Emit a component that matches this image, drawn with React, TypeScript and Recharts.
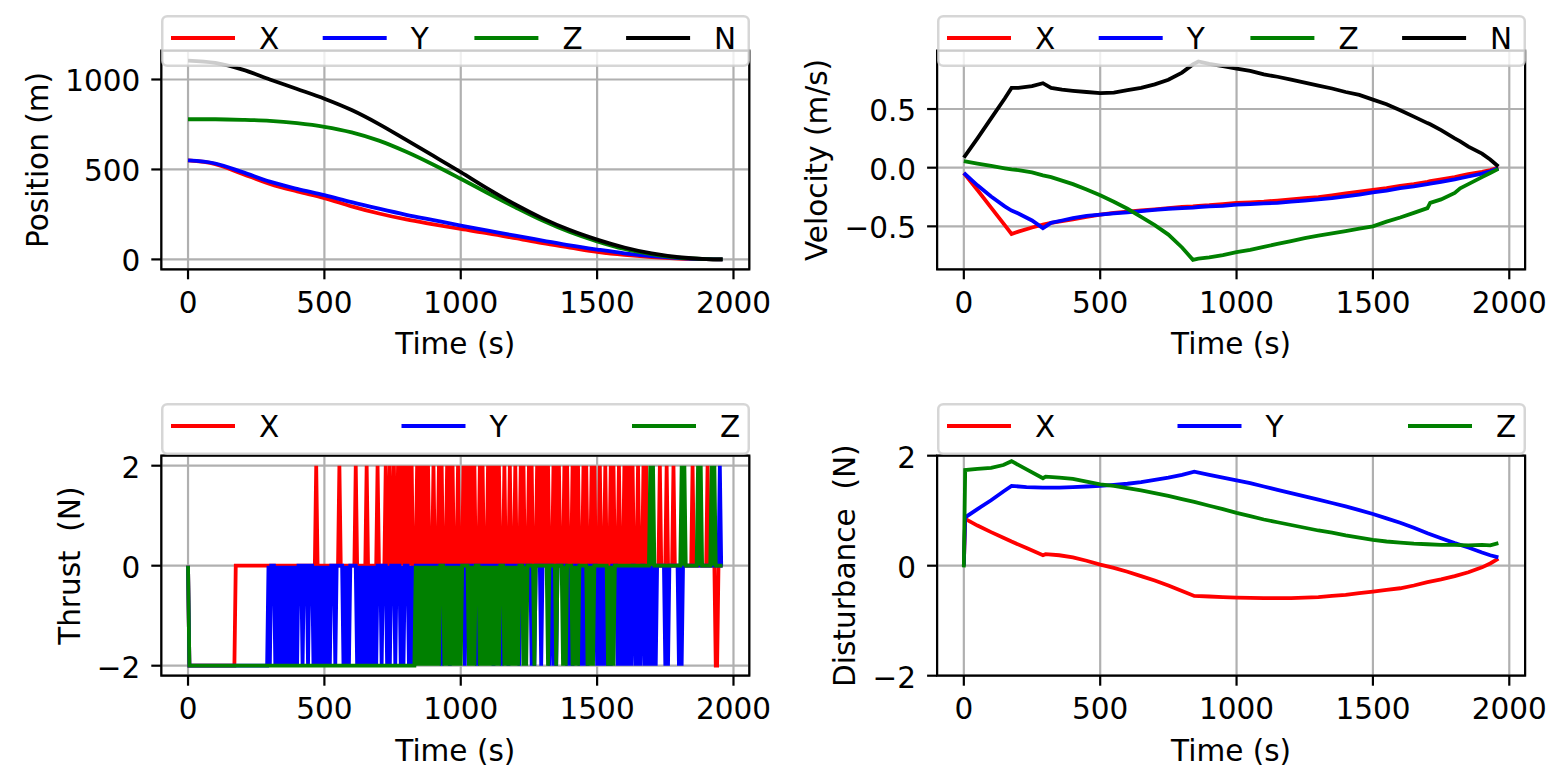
import {
  LineChart,
  Line,
  XAxis,
  YAxis,
  CartesianGrid,
  Legend,
  ReferenceArea,
} from 'recharts';

// ---------------------------------------------------------------------------
// Data
// ---------------------------------------------------------------------------

// Position (m), sampled every 100 s
const posTime = [0, 100, 200, 300, 400, 500, 600, 700, 800, 900, 1000, 1100, 1200, 1300, 1400, 1500, 1600, 1700, 1800, 1900, 1960];
const posX = [550, 530, 475, 420, 378, 341, 295, 255, 222, 195, 169, 145, 118, 90, 66, 42, 25, 13, 5, 1, 0];
const posY = [550, 533, 485, 432, 392, 357, 318, 282, 248, 218, 188, 160, 132, 105, 78, 55, 34, 18, 7, 1, 0];
const posZ = [779, 779, 776, 770, 757, 737, 706, 660, 598, 526, 448, 368, 290, 216, 152, 100, 58, 30, 10, 2, 0];
const posN = [1105, 1092, 1055, 1000, 947, 893, 830, 752, 664, 575, 485, 392, 305, 228, 163, 110, 66, 33, 12, 2, 0];

// Velocity (m/s)
const velTime = [0, 50, 100, 150, 175, 200, 250, 290, 320, 360, 400, 450, 500, 550, 600, 650, 700, 750, 800, 840, 860, 900, 950, 1000, 1050, 1100, 1150, 1200, 1250, 1300, 1350, 1400, 1450, 1500, 1550, 1600, 1650, 1700, 1710, 1750, 1800, 1820, 1850, 1900, 1930, 1960];
const velX = [-0.045, -0.19, -0.34, -0.49, -0.565, -0.545, -0.51, -0.485, -0.47, -0.455, -0.44, -0.42, -0.4, -0.385, -0.375, -0.365, -0.355, -0.345, -0.335, -0.33, -0.325, -0.32, -0.31, -0.3, -0.295, -0.29, -0.28, -0.27, -0.26, -0.25, -0.235, -0.22, -0.205, -0.19, -0.175, -0.155, -0.14, -0.12, -0.115, -0.1, -0.08, -0.07, -0.055, -0.035, -0.02, 0];
const velY = [-0.045, -0.15, -0.245, -0.33, -0.365, -0.39, -0.45, -0.515, -0.47, -0.45, -0.43, -0.41, -0.4, -0.39, -0.38, -0.37, -0.36, -0.35, -0.345, -0.34, -0.335, -0.33, -0.325, -0.315, -0.31, -0.305, -0.3, -0.29, -0.28, -0.27, -0.26, -0.245, -0.23, -0.21, -0.195, -0.175, -0.16, -0.14, -0.135, -0.12, -0.1, -0.09, -0.075, -0.05, -0.03, -0.005];
const velZ = [0.055, 0.035, 0.015, -0.005, -0.015, -0.02, -0.04, -0.065, -0.08, -0.11, -0.14, -0.185, -0.235, -0.29, -0.35, -0.42, -0.49, -0.57, -0.68, -0.785, -0.775, -0.765, -0.745, -0.72, -0.7, -0.675, -0.65, -0.625, -0.6, -0.58, -0.56, -0.54, -0.52, -0.5, -0.46, -0.425, -0.385, -0.345, -0.3, -0.27, -0.215, -0.175, -0.14, -0.08, -0.045, -0.01];
const velN = [0.085, 0.25, 0.42, 0.59, 0.68, 0.68, 0.695, 0.72, 0.68, 0.665, 0.655, 0.645, 0.635, 0.64, 0.66, 0.68, 0.71, 0.75, 0.81, 0.88, 0.905, 0.885, 0.865, 0.845, 0.825, 0.795, 0.775, 0.75, 0.725, 0.7, 0.675, 0.645, 0.62, 0.58, 0.54, 0.49, 0.435, 0.38, 0.37, 0.32, 0.25, 0.225, 0.18, 0.12, 0.07, 0.01];

// Thrust (N): one character per 5 s step, 20 steps (100 s) per string.
// '+' = +2, '0' = 0, '-' = -2
const THRUST_DT = 5;
const thrustX = [
  '0-------------------', '---------------00000', '00000000000000000000', '00000000000000000000',
  '00000000000000+00000', '00000000000+00000000', '000+0000000+0000000+', '00000+00+00+00+0+0+0',
  '+0+0+000+0+0+0+0+000', '+000+0+000+0+0+000+0', '00+0+0+0+0+000+0+000', '+0+0+0+0+000+000+000',
  '+000+0+000+0+000+0+0', '+0+0+000+0+0+000+0+0', '00+0+0+000+0+000+0+0', '00+000+000+0+000+000',
  '+0+0+0+000+000+0+000', '000000+0000+0000+000', '0000000000+000000000', '0+00000--0000',
];
const thrustY = [
  '0-------------------', '--------------------', '-------------------0', '-000-0-0-0-0-0-0-0-0',
  '-000-000-000-0-0-0-0', '-0-0-000-00000-0-0-0', '0000-0-0-0-0-0-0-0-0', '00-000-0-000-000-0-0',
  '00-0-0-0000000000000', '000000-00000-0000000', '000-00000000-0000000', '0000-00000-0000-0000',
  '000-00000000-0-0000-', '00000-00-0-0000000-0', '-0-0000-0-0-0-000000', '-0-0-0-0-0-0000-0-0-',
  '0-0-0-00-0-0-00-0-0-', '0-0-000000-0-0000000', '-0-00000000000000000', '0000000000+00',
];
const thrustZ = [
  '0-------------------', '--------------------', '--------------------', '--------------------',
  '--------------------', '--------------------', '--------------------', '--------------------',
  '-------0-0-0-0-0-0-0', '-0-0-000-0-0-0-0-0-0', '-00000-0-0-000-0-0-0', '-0-0-0-0-000-0-0-0-0',
  '-0-000-0-00000-00000', '0000-00000-0000-0-00', '00-0-0-000000-0-0-00', '00000000-0-0-0000000',
  '0000000000000000000+', '0+000000000000000000', '00+0+000000000+0+000', '0000+0+000000',
];

// Disturbance (N)
const distTime = [0, 5, 50, 100, 145, 175, 230, 290, 300, 350, 400, 450, 500, 550, 600, 650, 700, 750, 800, 845, 900, 950, 1000, 1050, 1100, 1150, 1200, 1250, 1300, 1350, 1400, 1450, 1500, 1550, 1600, 1650, 1700, 1750, 1800, 1850, 1900, 1930, 1960];
const distX = [0, 0.85, 0.73, 0.61, 0.51, 0.44, 0.32, 0.19, 0.21, 0.19, 0.15, 0.09, 0.02, -0.04, -0.11, -0.19, -0.27, -0.36, -0.46, -0.55, -0.56, -0.57, -0.58, -0.585, -0.59, -0.59, -0.59, -0.58, -0.57, -0.55, -0.53, -0.5, -0.47, -0.44, -0.41, -0.36, -0.3, -0.25, -0.19, -0.12, -0.03, 0.04, 0.13];
const distY = [0, 0.88, 1.03, 1.19, 1.35, 1.45, 1.43, 1.42, 1.42, 1.42, 1.43, 1.44, 1.45, 1.47, 1.49, 1.52, 1.56, 1.6, 1.65, 1.71, 1.65, 1.6, 1.55, 1.5, 1.44, 1.38, 1.32, 1.26, 1.2, 1.14, 1.08, 1.01, 0.94, 0.86, 0.78, 0.69, 0.59, 0.5, 0.41, 0.33, 0.24, 0.19, 0.15];
const distZ = [-0.03, 1.74, 1.76, 1.78, 1.83, 1.9, 1.75, 1.59, 1.62, 1.6, 1.58, 1.53, 1.48, 1.45, 1.41, 1.37, 1.32, 1.27, 1.21, 1.16, 1.09, 1.03, 0.96, 0.9, 0.84, 0.79, 0.74, 0.69, 0.64, 0.6, 0.55, 0.51, 0.47, 0.44, 0.42, 0.4, 0.39, 0.38, 0.38, 0.37, 0.38, 0.37, 0.41];

// Axis ticks
const timeTicks = [0, 500, 1000, 1500, 2000];
const posTicks = [0, 500, 1000];
const velTicks = [-0.5, 0, 0.5];
const forceTicks = [-2, 0, 2];

// ---------------------------------------------------------------------------
// Tables for the charts
// ---------------------------------------------------------------------------

const posData = posTime.map((t, i) => ({ t, x: posX[i], y: posY[i], z: posZ[i], n: posN[i] }));
const velData = velTime.map((t, i) => ({ t, x: velX[i], y: velY[i], z: velZ[i], n: velN[i] }));
const distData = distTime.map((t, i) => ({ t, x: distX[i], y: distY[i], z: distZ[i] }));

const decode = (blocks: string[]) =>
  blocks.join('').split('').map((c) => (c === '+' ? 2 : c === '-' ? -2 : 0));
const tX = decode(thrustX);
const tY = decode(thrustY);
const tZ = decode(thrustZ);
const thrustData = tX.map((v, i) => ({ t: i * THRUST_DT, x: v, y: tY[i], z: tZ[i] }));

// ---------------------------------------------------------------------------
// Styling
// ---------------------------------------------------------------------------

const FONT = '"DejaVu Sans", sans-serif';
const FS = 29.5;
const GRID = '#b0b0b0';
const SPINE = 2.2;
const LINE_W = 3.8;
const CHART_W = 775;
const CHART_H = 389;
const PLOT_W = 588;
const X_AXIS_H = 100;
const LEGEND_H = 52;
const X_DOMAIN: [number, number] = [-98, 2058];

const RED = '#ff0000';
const BLUE = '#0000ff';
const GREEN = '#008000';
const BLACK = '#000000';

type SeriesDef = { key: string; name: string; color: string };

const xyzn: SeriesDef[] = [
  { key: 'x', name: 'X', color: RED },
  { key: 'y', name: 'Y', color: BLUE },
  { key: 'z', name: 'Z', color: GREEN },
  { key: 'n', name: 'N', color: BLACK },
];
const xyz = xyzn.slice(0, 3);

const minus = (s: string, v: number) => (v < 0 ? '\u2212' + s : s);
const fmtInt = (v: number) => minus(String(Math.abs(v)), v);
const fmtOne = (v: number) => minus(Math.abs(v).toFixed(1), v);

interface PanelProps {
  left: number;
  top: number;
  plotLeft: number;
  plotTop: number;
  plotHeight: number;
  legendTop: number;
  legendPitch: number;
  data: Record<string, number>[];
  series: SeriesDef[];
  curve: 'linear' | 'monotone';
  yDomain: [number, number];
  yTicks: number[];
  yFormat: (v: number) => string;
  yLabel: string;
  yLabelX: number;
}

function Panel(p: PanelProps) {
  const margin = {
    top: p.plotTop,
    right: CHART_W - p.plotLeft - PLOT_W,
    bottom: CHART_H - p.plotTop - p.plotHeight - X_AXIS_H,
    left: 0,
  };
  const plotBottom = p.plotTop + p.plotHeight;
  const cy = p.plotTop + p.plotHeight / 2;
  const tickStyle = { fontSize: FS, fontFamily: FONT, fill: '#000' };

  // legend keeps the plotting order (X, Y, Z, N) like matplotlib does
  const renderLegend = () => {
    const w = PLOT_W + 1;
    return (
      <svg width={w} height={LEGEND_H} style={{ display: 'block' }}>
        <rect
          x={1.25}
          y={1.25}
          width={w - 2.5}
          height={LEGEND_H - 2.5}
          rx={5}
          fill="#ffffff"
          fillOpacity={0.8}
          stroke="#cccccc"
          strokeOpacity={0.8}
          strokeWidth={2.5}
        />
        {p.series.map((s, i) => {
          const x0 = 10 + i * p.legendPitch;
          return (
            <g key={s.key}>
              <line x1={x0} x2={x0 + 64} y1={23} y2={23} stroke={s.color} strokeWidth={4} />
              <text x={x0 + 88} y={33.8} fontSize={FS} fontFamily={FONT} fill="#000">
                {s.name}
              </text>
            </g>
          );
        })}
      </svg>
    );
  };

  return (
    <div style={{ position: 'absolute', left: p.left, top: p.top, width: CHART_W, height: CHART_H }}>
      <LineChart width={CHART_W} height={CHART_H} data={p.data} margin={margin}>
        <CartesianGrid stroke={GRID} strokeWidth={SPINE} />
        <XAxis
          dataKey="t"
          type="number"
          domain={X_DOMAIN}
          ticks={timeTicks}
          interval={0}
          allowDataOverflow
          height={X_AXIS_H}
          stroke="#000"
          axisLine={false}
          tickSize={10}
          tickMargin={12.5}
          tickLine={{ stroke: '#000', strokeWidth: SPINE }}
          tick={tickStyle}
          label={() => (
            <text
              x={p.plotLeft + PLOT_W / 2}
              y={plotBottom + 85}
              textAnchor="middle"
              fontSize={FS}
              fontFamily={FONT}
              fill="#000"
            >
              Time (s)
            </text>
          )}
        />
        <YAxis
          type="number"
          domain={p.yDomain}
          ticks={p.yTicks}
          interval={0}
          allowDataOverflow
          width={p.plotLeft}
          stroke="#000"
          axisLine={false}
          tickSize={10}
          tickMargin={11}
          tickLine={{ stroke: '#000', strokeWidth: SPINE }}
          tick={{ ...tickStyle, dy: 1.5 }}
          tickFormatter={p.yFormat}
          label={() => (
            <text
              x={p.yLabelX}
              y={cy}
              transform={`rotate(-90 ${p.yLabelX} ${cy})`}
              textAnchor="middle"
              fontSize={FS}
              fontFamily={FONT}
              fill="#000"
              style={{ whiteSpace: 'pre' }}
            >
              {p.yLabel}
            </text>
          )}
        />
        <ReferenceArea
          x1={X_DOMAIN[0]}
          x2={X_DOMAIN[1]}
          y1={p.yDomain[0]}
          y2={p.yDomain[1]}
          fill="none"
          stroke="#000"
          strokeWidth={SPINE}
        />
        {p.series.map((s) => (
          <Line
            key={s.key}
            dataKey={s.key}
            name={s.name}
            stroke={s.color}
            strokeWidth={LINE_W}
            type={p.curve}
            dot={false}
            activeDot={false}
            isAnimationActive={false}
          />
        ))}
        <Legend
          layout="horizontal"
          verticalAlign="middle"
          align="center"
          content={renderLegend}
          wrapperStyle={{ left: p.plotLeft, top: p.legendTop, width: PLOT_W + 1, height: LEGEND_H }}
        />
      </LineChart>
    </div>
  );
}

export default function App() {
  return (
    <div
      style={{
        position: 'absolute',
        left: 0,
        top: 0,
        width: 1550,
        height: 778,
        background: '#ffffff',
        overflow: 'hidden',
      }}
    >
      <Panel
        left={0}
        top={0}
        plotLeft={161.3}
        plotTop={50.7}
        plotHeight={218.6}
        legendTop={15}
        legendPitch={151.7}
        data={posData}
        series={xyzn}
        curve="monotone"
        yDomain={[-55, 1160]}
        yTicks={posTicks}
        yFormat={fmtInt}
        yLabel="Position (m)"
        yLabelX={48}
      />
      <Panel
        left={775}
        top={0}
        plotLeft={162.1}
        plotTop={50.7}
        plotHeight={218.6}
        legendTop={15}
        legendPitch={151.7}
        data={velData}
        series={xyzn}
        curve="linear"
        yDomain={[-0.866, 0.997]}
        yTicks={velTicks}
        yFormat={fmtOne}
        yLabel="Velocity (m/s)"
        yLabelX={52}
      />
      <Panel
        left={0}
        top={389}
        plotLeft={161.3}
        plotTop={66.7}
        plotHeight={220}
        legendTop={14}
        legendPitch={230.5}
        data={thrustData}
        series={xyz}
        curve="linear"
        yDomain={[-2.2, 2.2]}
        yTicks={forceTicks}
        yFormat={fmtInt}
        yLabel="Thrust  (N)"
        yLabelX={80}
      />
      <Panel
        left={775}
        top={389}
        plotLeft={162.1}
        plotTop={66.7}
        plotHeight={220}
        legendTop={14}
        legendPitch={230.5}
        data={distData}
        series={xyz}
        curve="linear"
        yDomain={[-2, 2]}
        yTicks={forceTicks}
        yFormat={fmtInt}
        yLabel="Disturbance  (N)"
        yLabelX={80}
      />
    </div>
  );
}
